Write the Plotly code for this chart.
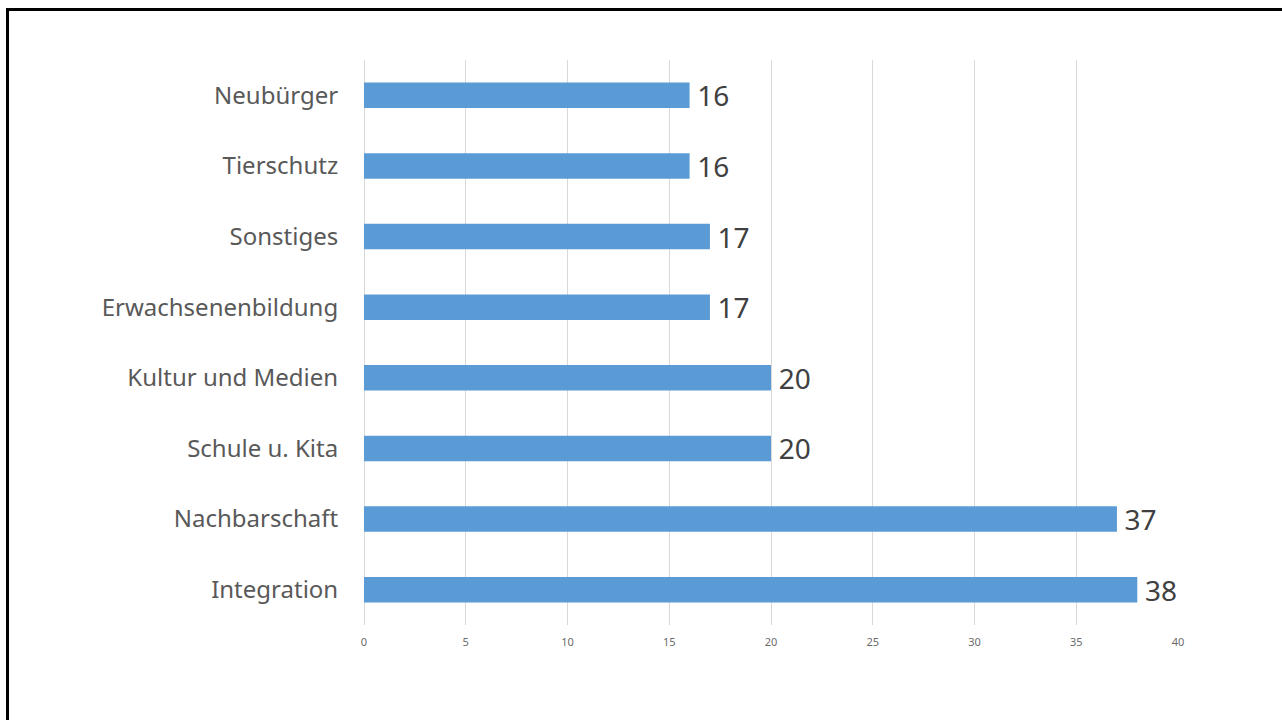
import plotly.graph_objects as go

categories = ["Integration", "Nachbarschaft", "Schule u. Kita", "Kultur und Medien",
              "Erwachsenenbildung", "Sonstiges", "Tierschutz", "Neubürger"]
values = [38, 37, 20, 20, 17, 17, 16, 16]
tick_vals = [0, 5, 10, 15, 20, 25, 30, 35, 40]

W, H = 1282, 720
L, R, T, B = 364, 104, 60, 95
pw, ph = W - L - R, H - T - B

fig = go.Figure(go.Bar(
    y=categories, x=values, orientation="h",
    marker=dict(color="#5B9BD5", line=dict(width=0)),
    text=["\u2009" + str(v) for v in values], textposition="outside",
    constraintext="none",
    textfont=dict(size=28, color="#404040", family="Noto Sans"),
    cliponaxis=False,
))

def px_x(p):
    return (p - L) / pw

def px_y(p):
    return (H - B - p) / ph

fig.update_layout(
    width=W, height=H,
    margin=dict(l=L, r=R, t=T, b=B),
    paper_bgcolor="white", plot_bgcolor="white",
    bargap=0.64,
    showlegend=False,
    font=dict(family="Noto Sans"),
    xaxis=dict(range=[0, 40], tickvals=tick_vals, showgrid=True, gridcolor="#d9d9d9",
               gridwidth=1, zeroline=False, showline=False,
               tickfont=dict(size=11, color="#6b6b6b"),
               ticks="outside", ticklen=7, tickcolor="rgba(0,0,0,0)", fixedrange=True),
    yaxis=dict(tickfont=dict(size=24, color="#595959"),
               ticks="outside", ticklen=20, tickcolor="rgba(0,0,0,0)",
               showgrid=False, zeroline=False, showline=False,
               categoryorder="array", categoryarray=categories),
    shapes=[dict(type="rect", xref="paper", yref="paper",
                 x0=px_x(7.5), x1=px_x(1300), y0=px_y(740), y1=px_y(9.5),
                 line=dict(color="black", width=3), fillcolor="rgba(0,0,0,0)", layer="above")],
)
fig.add_shape(type="line", xref="x", yref="paper", x0=0, x1=0, y0=0, y1=1,
              line=dict(color="#d9d9d9", width=2), layer="below")

fig.write_html("out.html", config={"displayModeBar": False},
               post_script="document.body.style.margin='0';")
